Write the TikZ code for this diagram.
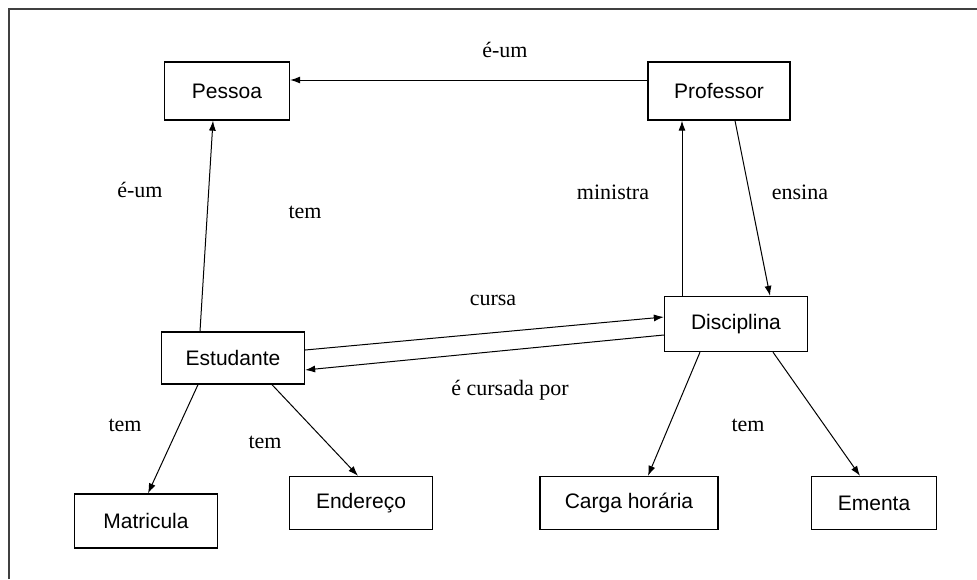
\documentclass[tikz,border=0pt]{standalone}
\usepackage{fontspec}
\setmainfont{Liberation Serif}
\newfontfamily\boxfont{Liberation Sans}
\usetikzlibrary{arrows.meta,positioning}

\tikzset{
  conceito/.style={draw,line width=1.3pt,rectangle,inner sep=0pt,
    font=\boxfont\fontsize{21}{24}\selectfont},
  rotulo/.style={font=\fontsize{22}{25}\selectfont,inner sep=0pt}
}

\begin{document}
\begin{tikzpicture}[x=1pt,y=-1pt,>={Latex[length=10pt,width=7pt]},line width=1pt]

\useasboundingbox (0,0) rectangle (977,579);
\fill[white] (0,0) rectangle (977,579);
\draw[line width=1.2pt,black!75] (9,579) -- (9,9) -- (977,9);

\node[conceito,minimum width=125pt,minimum height=58pt] (pes) at (227,91)  {Pessoa};
\node[conceito,minimum width=142pt,minimum height=58pt] (prof) at (719,91) {Professor};
\node[conceito,minimum width=143pt,minimum height=52pt] (est) at (233,358) {Estudante};
\node[conceito,minimum width=143pt,minimum height=55pt] (dis) at (736,324) {Disciplina};
\node[conceito,minimum width=143pt,minimum height=54pt] (mat) at (146,521) {Matricula};
\node[conceito,minimum width=143pt,minimum height=53pt] (end) at (361,503) {Endereço};
\node[conceito,minimum width=178pt,minimum height=53pt] (car) at (629,503) {Carga horária};
\node[conceito,minimum width=125pt,minimum height=53pt] (eme) at (874,503) {Ementa};

\node[rotulo] (r1) at (505,50)  {é-um};
\node[rotulo] (r2) at (140,190) {é-um};
\node[rotulo] (r3) at (305,212) {tem};
\node[rotulo] (r4) at (613,192) {ministra};
\node[rotulo] (r5) at (800,192) {ensina};
\node[rotulo] (r6) at (493,300) {cursa};
\node[rotulo] (r7) at (510,390) {é cursada por};
\node[rotulo] (r8) at (125,425) {tem};
\node[rotulo] (r9) at (265,442) {tem};
\node[rotulo] (r10) at (748,425) {tem};

\path[->] ([yshift=11pt]prof.west)   edge ([yshift=11pt]pes.east)
          ([xshift=-33pt]est.north)  edge ([xshift=-14pt]pes.south)
          ([xshift=-54pt]dis.north)  edge ([xshift=-37pt]prof.south)
          ([xshift=16pt]prof.south)  edge ([xshift=34pt]dis.north)
          ([yshift=8pt]est.east)     edge ([yshift=7pt]dis.west)
          ([yshift=-11pt]dis.west)   edge ([yshift=-12pt]est.east)
          ([xshift=-35pt]est.south)  edge ([xshift=2pt]mat.north)
          ([xshift=39pt]est.south)   edge ([xshift=-3pt]end.north)
          ([xshift=-36pt]dis.south)  edge ([xshift=19pt]car.north)
          ([xshift=37pt]dis.south)   edge ([xshift=-14pt]eme.north);

\end{tikzpicture}
\end{document}
